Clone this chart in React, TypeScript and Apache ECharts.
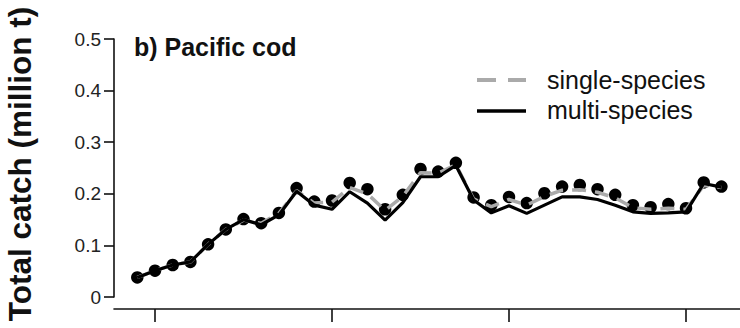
import React, { useEffect, useRef } from "react";
import * as echarts from "echarts";

const years = [
  1979, 1980, 1981, 1982, 1983, 1984, 1985, 1986, 1987, 1988, 1989, 1990,
  1991, 1992, 1993, 1994, 1995, 1996, 1997, 1998, 1999, 2000, 2001, 2002,
  2003, 2004, 2005, 2006, 2007, 2008, 2009, 2010, 2011, 2012,
];

const observed = [
  0.038, 0.051, 0.062, 0.068, 0.102, 0.131, 0.151, 0.143, 0.163, 0.211, 0.185, 0.187,
  0.221, 0.209, 0.17, 0.198, 0.248, 0.243, 0.26, 0.193, 0.178, 0.194, 0.182, 0.201,
  0.214, 0.217, 0.209, 0.198, 0.178, 0.174, 0.18, 0.172, 0.222, 0.214,
];

const singleSpecies = [
  0.038, 0.051, 0.062, 0.068, 0.102, 0.131, 0.149, 0.143, 0.162, 0.206, 0.182, 0.184,
  0.212, 0.2, 0.168, 0.195, 0.241, 0.24, 0.256, 0.19, 0.175, 0.189, 0.178, 0.195,
  0.207, 0.208, 0.203, 0.192, 0.173, 0.17, 0.172, 0.17, 0.216, 0.212,
];

const multiSpecies = [
  0.038, 0.051, 0.062, 0.068, 0.102, 0.131, 0.15, 0.14, 0.159, 0.205, 0.178, 0.17,
  0.204, 0.182, 0.149, 0.183, 0.233, 0.233, 0.255, 0.188, 0.163, 0.177, 0.162, 0.178,
  0.194, 0.194, 0.189, 0.178, 0.165, 0.162, 0.163, 0.165, 0.22, 0.213,
];

const xTicks = [1980, 1990, 2000, 2010];
const yTicks = [0, 0.1, 0.2, 0.3, 0.4, 0.5];

const FONT = "'Liberation Sans', Arial, Helvetica, sans-serif";

export default function App() {
  const ref = useRef<HTMLDivElement>(null);

  useEffect(() => {
    if (!ref.current) return;
    const chart = echarts.init(ref.current, null, { renderer: "svg" });
    const pair = (arr: number[]) => years.map((y, i) => [y, arr[i]]);

    chart.setOption({
      animation: false,
      backgroundColor: "#ffffff",
      grid: { left: 114, right: 0, top: 39, bottom: 31, containLabel: false },
      xAxis: {
        type: "value",
        min: 1977.684,
        max: 2013.05,
        offset: 12,
        splitLine: { show: false },
        axisLine: { show: true, onZero: false, lineStyle: { color: "#111", width: 1.6 } },
        axisTick: {
          show: true,
          length: 13,
          customValues: xTicks,
          lineStyle: { color: "#111", width: 1.6 },
        },
        axisLabel: { show: false, customValues: xTicks },
      },
      yAxis: {
        type: "value",
        min: 0,
        max: 0.5,
        interval: 0.1,
        splitLine: { show: false },
        axisLine: { show: true, lineStyle: { color: "#111", width: 1.6 } },
        axisTick: { show: true, length: 10, lineStyle: { color: "#111", width: 1.6 } },
        axisLabel: {
          margin: 13,
          color: "#222",
          fontFamily: FONT,
          fontSize: 19,
          formatter: (v: number) => {
            const t = yTicks.find((k) => Math.abs(k - v) < 1e-9);
            return t === undefined ? "" : t === 0 ? "0" : t.toFixed(1);
          },
        },
      },
      series: [
        {
          name: "observed",
          type: "scatter",
          data: pair(observed),
          symbol: "circle",
          symbolSize: 12.5,
          itemStyle: { color: "#000", opacity: 1 },
          z: 2,
        },
        {
          name: "single-species",
          type: "line",
          data: pair(singleSpecies),
          showSymbol: false,
          symbol: "none",
          lineStyle: { color: "#aaaaaa", width: 3.5, type: [14, 9] },
          z: 3,
        },
        {
          name: "multi-species",
          type: "line",
          data: pair(multiSpecies),
          showSymbol: false,
          symbol: "none",
          lineStyle: { color: "#000", width: 3.2 },
          z: 4,
        },
      ],
      graphic: [
        {
          type: "text",
          x: 20,
          y: 164,
          rotation: Math.PI / 2,
          style: {
            text: "Total catch (million t)",
            fontFamily: FONT,
            fontWeight: "bold",
            fontSize: 31.5,
            fill: "#111",
            textAlign: "center",
            textVerticalAlign: "middle",
          },
        },
        {
          type: "text",
          x: 134,
          y: 47,
          style: {
            text: "b) Pacific cod",
            fontFamily: FONT,
            fontWeight: "bold",
            fontSize: 25,
            fill: "#111",
            textAlign: "left",
            textVerticalAlign: "middle",
          },
        },
        {
          type: "line",
          shape: { x1: 477, y1: 80, x2: 526, y2: 80 },
          style: { stroke: "#aaaaaa", lineWidth: 4, lineDash: [19, 12] },
        },
        {
          type: "text",
          x: 547,
          y: 80,
          style: {
            text: "single-species",
            fontFamily: FONT,
            fontSize: 25,
            fill: "#111",
            textAlign: "left",
            textVerticalAlign: "middle",
          },
        },
        {
          type: "line",
          shape: { x1: 477, y1: 111, x2: 526, y2: 111 },
          style: { stroke: "#000", lineWidth: 3.5 },
        },
        {
          type: "text",
          x: 547,
          y: 110,
          style: {
            text: "multi-species",
            fontFamily: FONT,
            fontSize: 25,
            fill: "#111",
            textAlign: "left",
            textVerticalAlign: "middle",
          },
        },
      ],
    });

    return () => chart.dispose();
  }, []);

  return (
    <div
      ref={ref}
      style={{ position: "fixed", left: 0, top: 0, width: 740, height: 328 }}
    />
  );
}
